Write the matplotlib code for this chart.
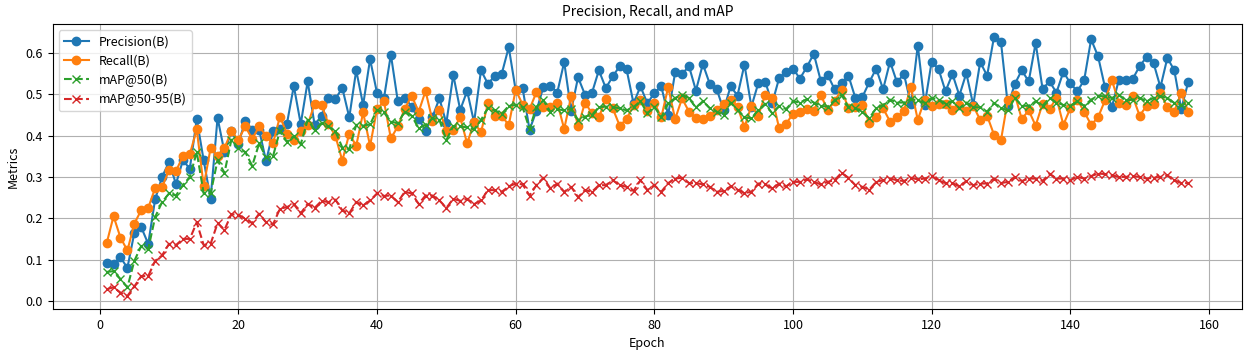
import numpy as np
import matplotlib
matplotlib.use('Agg')
import matplotlib.pyplot as plt

plt.rcParams['font.family'] = ['Noto Sans CJK KR', 'DejaVu Sans']

# data (epochs 1..157)
precision = [
    0.092, 0.09, 0.105, 0.08, 0.165, 0.178, 0.138, 0.246, 0.30, 0.336,
    0.283, 0.34, 0.32, 0.44, 0.34, 0.247, 0.443, 0.36, 0.41, 0.38,
    0.436, 0.414, 0.414, 0.338, 0.41, 0.416, 0.428, 0.52, 0.428, 0.531,
    0.426, 0.448, 0.49, 0.489, 0.515, 0.444, 0.558, 0.474, 0.585, 0.503, 0.49,
    0.596, 0.483, 0.492, 0.47, 0.44, 0.412, 0.445, 0.49, 0.43, 0.547,
    0.462, 0.508, 0.432, 0.558, 0.525, 0.545, 0.55, 0.614, 0.51, 0.515, 0.414,
    0.46, 0.518, 0.521, 0.504, 0.578, 0.46, 0.541, 0.499, 0.503, 0.558,
    0.515, 0.543, 0.568, 0.56, 0.478, 0.519, 0.478, 0.503, 0.519, 0.45, 0.553,
    0.549, 0.568, 0.509, 0.573, 0.525, 0.512, 0.462, 0.519, 0.497, 0.572,
    0.47, 0.527, 0.53, 0.478, 0.539, 0.554, 0.562, 0.538, 0.566, 0.598, 0.533,
    0.547, 0.512, 0.527, 0.545, 0.491, 0.493, 0.529, 0.562, 0.512, 0.579,
    0.529, 0.549, 0.477, 0.618, 0.474, 0.579, 0.561, 0.507, 0.549, 0.497, 0.551,
    0.474, 0.578, 0.545, 0.639, 0.626, 0.472, 0.525, 0.558, 0.531, 0.624,
    0.513, 0.531, 0.504, 0.554, 0.527, 0.507, 0.534, 0.633, 0.592, 0.517, 0.469,
    0.535, 0.535, 0.537, 0.568, 0.59, 0.576, 0.517, 0.588, 0.558, 0.464, 0.529,
]
recall = [
    0.139, 0.205, 0.153, 0.122, 0.187, 0.22, 0.225, 0.273, 0.275, 0.317,
    0.314, 0.35, 0.355, 0.415, 0.278, 0.37, 0.35, 0.37, 0.41, 0.39,
    0.422, 0.392, 0.422, 0.40, 0.381, 0.446, 0.405, 0.389, 0.411, 0.426,
    0.477, 0.474, 0.428, 0.399, 0.339, 0.405, 0.375, 0.456, 0.375, 0.464, 0.483,
    0.393, 0.422, 0.465, 0.497, 0.457, 0.508, 0.436, 0.462, 0.412, 0.414,
    0.444, 0.381, 0.432, 0.408, 0.478, 0.448, 0.448, 0.425, 0.511, 0.475, 0.464,
    0.505, 0.469, 0.469, 0.48, 0.416, 0.495, 0.422, 0.48, 0.454, 0.444,
    0.488, 0.466, 0.424, 0.44, 0.474, 0.485, 0.46, 0.48, 0.444, 0.517, 0.44,
    0.49, 0.458, 0.442, 0.44, 0.448, 0.462, 0.477, 0.487, 0.47, 0.42,
    0.472, 0.448, 0.499, 0.491, 0.418, 0.428, 0.453, 0.458, 0.464, 0.46, 0.499,
    0.461, 0.483, 0.511, 0.466, 0.469, 0.474, 0.431, 0.444, 0.466, 0.434,
    0.444, 0.46, 0.517, 0.438, 0.487, 0.472, 0.477, 0.477, 0.462, 0.474, 0.46,
    0.472, 0.438, 0.448, 0.402, 0.389, 0.487, 0.499, 0.44, 0.461, 0.424,
    0.477, 0.464, 0.491, 0.426, 0.466, 0.487, 0.458, 0.426, 0.444, 0.485, 0.534,
    0.48, 0.474, 0.495, 0.448, 0.472, 0.477, 0.504, 0.468, 0.458, 0.504, 0.458,
]
map50 = [
    0.07, 0.072, 0.053, 0.033, 0.097, 0.133, 0.125, 0.203, 0.239, 0.26,
    0.255, 0.28, 0.30, 0.36, 0.26, 0.26, 0.34, 0.31, 0.39, 0.37,
    0.36, 0.327, 0.381, 0.347, 0.35, 0.412, 0.385, 0.399, 0.379, 0.438,
    0.414, 0.43, 0.422, 0.41, 0.371, 0.367, 0.426, 0.424, 0.427, 0.462, 0.456,
    0.434, 0.43, 0.458, 0.448, 0.418, 0.426, 0.442, 0.438, 0.389, 0.423,
    0.422, 0.42, 0.415, 0.438, 0.466, 0.461, 0.453, 0.472, 0.474, 0.469, 0.416,
    0.47, 0.485, 0.458, 0.464, 0.461, 0.465, 0.438, 0.446, 0.45, 0.469,
    0.47, 0.469, 0.466, 0.461, 0.469, 0.483, 0.454, 0.47, 0.444, 0.478, 0.491,
    0.499, 0.49, 0.468, 0.483, 0.466, 0.458, 0.45, 0.48, 0.462, 0.444,
    0.442, 0.462, 0.477, 0.454, 0.472, 0.464, 0.483, 0.48, 0.488, 0.48, 0.472,
    0.47, 0.485, 0.499, 0.469, 0.466, 0.458, 0.442, 0.466, 0.474, 0.487,
    0.48, 0.48, 0.488, 0.485, 0.479, 0.491, 0.487, 0.477, 0.483, 0.466, 0.48,
    0.469, 0.468, 0.458, 0.479, 0.466, 0.461, 0.491, 0.472, 0.472, 0.483,
    0.472, 0.491, 0.48, 0.474, 0.472, 0.483, 0.472, 0.487, 0.496, 0.495, 0.491,
    0.499, 0.485, 0.487, 0.491, 0.483, 0.491, 0.495, 0.491, 0.479, 0.474, 0.479,
]
map50_95 = [
    0.028, 0.033, 0.02, 0.012, 0.035, 0.06, 0.06, 0.097, 0.11, 0.138,
    0.135, 0.15, 0.15, 0.19, 0.135, 0.138, 0.188, 0.172, 0.21, 0.208,
    0.199, 0.188, 0.211, 0.19, 0.185, 0.223, 0.227, 0.234, 0.212, 0.235,
    0.225, 0.242, 0.239, 0.245, 0.219, 0.212, 0.239, 0.231, 0.243, 0.26, 0.254,
    0.255, 0.239, 0.264, 0.26, 0.235, 0.255, 0.255, 0.243, 0.225, 0.247,
    0.242, 0.247, 0.234, 0.243, 0.268, 0.268, 0.264, 0.277, 0.284, 0.282, 0.255,
    0.28, 0.298, 0.272, 0.284, 0.264, 0.276, 0.251, 0.268, 0.264, 0.28,
    0.28, 0.292, 0.28, 0.276, 0.266, 0.292, 0.268, 0.28, 0.264, 0.285, 0.296,
    0.298, 0.285, 0.285, 0.282, 0.276, 0.264, 0.266, 0.277, 0.269, 0.261,
    0.264, 0.284, 0.282, 0.272, 0.284, 0.277, 0.288, 0.288, 0.294, 0.288, 0.282,
    0.288, 0.292, 0.31, 0.298, 0.28, 0.276, 0.269, 0.288, 0.292, 0.296,
    0.292, 0.29, 0.298, 0.294, 0.296, 0.302, 0.292, 0.285, 0.285, 0.277, 0.29,
    0.28, 0.284, 0.284, 0.296, 0.285, 0.288, 0.3, 0.29, 0.296, 0.296,
    0.29, 0.308, 0.296, 0.296, 0.292, 0.3, 0.296, 0.302, 0.308, 0.307, 0.304,
    0.3, 0.3, 0.302, 0.3, 0.296, 0.298, 0.3, 0.304, 0.292, 0.285, 0.285,
]
epochs = np.arange(1, len(precision) + 1)

fig, ax = plt.subplots(figsize=(12.51, 3.51), dpi=100)
fig.subplots_adjust(left=0.042, right=0.993, top=0.932, bottom=0.12)

ax.plot(epochs, precision, 'o-', label='Precision(B)', markersize=6)
ax.plot(epochs, recall, 'o-', label='Recall(B)', markersize=6)
ax.plot(epochs, map50, 'x--', label='mAP@50(B)', markersize=6)
ax.plot(epochs, map50_95, 'x--', label='mAP@50-95(B)', markersize=6)

ax.set_title('Precision, Recall, and mAP', fontsize=10)
ax.set_xlabel('Epoch', fontsize=9)
ax.set_ylabel('Metrics', fontsize=9)
ax.tick_params(labelsize=9)
ax.grid(True)
ax.legend(loc='upper left', fontsize=9)

fig.savefig('out.png', dpi=100)
